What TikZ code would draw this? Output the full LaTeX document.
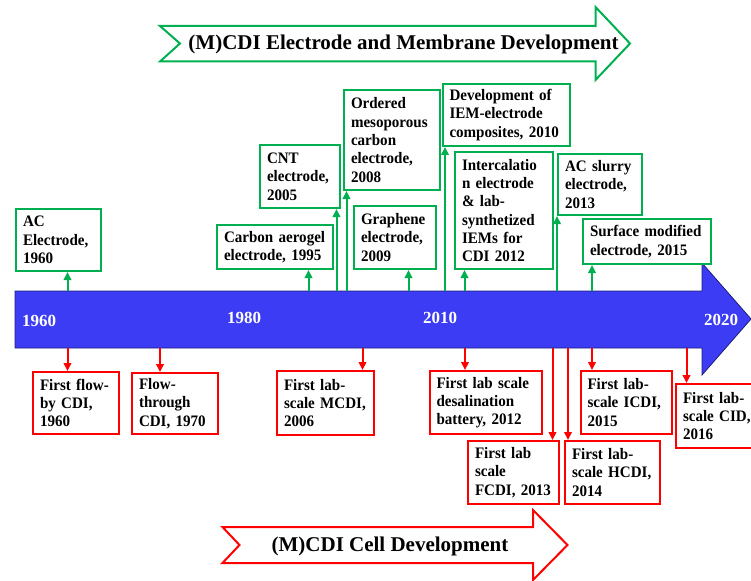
\documentclass[tikz,border=0pt]{standalone}
\usepackage{fontspec}
\setmainfont{Liberation Serif}
\newfontfamily\narrowfont[FakeStretch=0.94]{Liberation Serif}
\usetikzlibrary{arrows.meta}
\definecolor{cgreen}{RGB}{0,176,80}
\definecolor{cred}{RGB}{255,0,0}
\definecolor{tlblue}{RGB}{60,60,244}
\tikzset{
  box/.style={fill=white, line width=2pt, anchor=north west, align=left,
    inner xsep=7pt, inner ysep=0pt,
    font=\narrowfont\bfseries\fontsize{16}{18.3}\selectfont},
  gbox/.style={box, draw=cgreen},
  rbox/.style={box, draw=cred},
  garrow/.style={draw=cgreen, line width=2pt, -{Triangle[width=7.5pt,length=8pt]}},
  rarrow/.style={draw=cred, line width=2pt, -{Triangle[width=7.5pt,length=8pt]}},
  year/.style={text=white, font=\bfseries\fontsize{17}{20}\selectfont},
  banner/.style={font=\bfseries\fontsize{21}{24}\selectfont}
}
\begin{document}
\begin{tikzpicture}[x=1pt,y=-1pt]
\useasboundingbox (0,0) rectangle (751,580);

% top banner
\draw[cgreen, line width=2pt, fill=white] (160,26) -- (595.5,26) -- (595.5,7)
    -- (630,43.5) -- (595.5,80) -- (595.5,61.5) -- (160,61.5) -- (180,43.5) -- cycle;
\node[banner] (etitle) at (403.5,44) {(M)CDI Electrode and Membrane Development};

% timeline
\filldraw[fill=tlblue, draw=tlblue!50!black, line width=0.8pt] (15,291) -- (702,291)
    -- (702,263) -- (751,319) -- (702,375) -- (702,348) -- (15,348) -- cycle;
\coordinate (ttop) at (0,291);
\coordinate (tbot) at (0,348);
\node[year] (y1960) at (39,320.5) {1960};
\node[year] (y1980) at (244,318) {1980};
\node[year] (y2010) at (440,318) {2010};
\node[year] (y2020) at (721,320) {2020};

% electrode and membrane boxes
\node[gbox, text width=71pt, minimum height=62pt] (ac) at (15,208) {AC\\Electrode,\\1960};
\node[gbox, text width=102pt, minimum height=44pt] (aerogel) at (216,224) {Carbon aerogel\\electrode, 1995};
\node[gbox, text width=65.5pt, minimum height=63pt] (cnt) at (259,144) {CNT\\electrode,\\2005};
\node[gbox, text width=81.5pt, minimum height=100pt] (omc) at (343,89) {Ordered\\mesoporous\\carbon\\electrode,\\2008};
\node[gbox, text width=68pt, minimum height=63pt] (graphene) at (353,205) {Graphene\\electrode,\\2009};
\node[gbox, text width=113pt, minimum height=62pt] (iem) at (441.5,83) {Development of\\IEM-electrode\\composites, 2010};
\node[gbox, text width=84pt, minimum height=117pt] (intercal) at (454,151) {Intercalatio\\n electrode\\\& lab-\\synthetized\\IEMs for\\CDI 2012};
\node[gbox, text width=69.5pt, minimum height=61pt] (slurry) at (557,153) {AC slurry\\electrode,\\2013};
\node[gbox, text width=114pt, minimum height=45pt] (surface) at (582,218) {Surface modified\\electrode, 2015};

% cell boxes
\node[rbox, text width=71.5pt, minimum height=62pt] (flowby) at (32,371) {First flow-\\by CDI,\\1960};
\node[rbox, text width=71.5pt, minimum height=61pt] (flowthrough) at (131,372) {Flow-\\through\\CDI, 1970};
\node[rbox, text width=82.5pt, minimum height=64pt] (mcdi) at (276,370) {First lab-\\scale MCDI,\\2006};
\node[rbox, text width=98.5pt, minimum height=63pt] (battery) at (428.5,370) {First lab scale\\desalination\\battery, 2012};
\node[rbox, text width=77.5pt, minimum height=63pt] (icdi) at (579.5,370) {First lab-\\scale ICDI,\\2015};
\node[rbox, text width=76pt, minimum height=64pt] (cid) at (675,383) {First lab-\\scale CID,\\2016};
\node[rbox, text width=76.5pt, minimum height=63pt] (fcdi) at (467,440) {First lab\\scale\\FCDI, 2013};
\node[rbox, text width=81pt, minimum height=63pt] (hcdi) at (564,440) {First lab-\\scale HCDI,\\2014};

% arrows up
\draw[garrow] (67.5,0 |- ttop) -- (67.5,0 |- ac.south);
\draw[garrow] (308.5,0 |- ttop) -- (308.5,0 |- aerogel.south);
\draw[garrow] (336.5,0 |- ttop) -- (336.5,0 |- cnt.south);
\draw[garrow] (346.5,0 |- ttop) -- (346.5,0 |- omc.south);
\draw[garrow] (408.5,0 |- ttop) -- (408.5,0 |- graphene.south);
\draw[garrow] (445,0 |- ttop) -- (445,0 |- iem.south);
\draw[garrow] (464.5,0 |- ttop) -- (464.5,0 |- intercal.south);
\draw[garrow] (557,0 |- ttop) -- (557,0 |- slurry.south);
\draw[garrow] (592,0 |- ttop) -- (592,0 |- surface.south);

% arrows down
\draw[rarrow] (67.5,0 |- tbot) -- (67.5,0 |- flowby.north);
\draw[rarrow] (160,0 |- tbot) -- (160,0 |- flowthrough.north);
\draw[rarrow] (362.5,0 |- tbot) -- (362.5,0 |- mcdi.north);
\draw[rarrow] (465,0 |- tbot) -- (465,0 |- battery.north);
\draw[rarrow] (592,0 |- tbot) -- (592,0 |- icdi.north);
\draw[rarrow] (686.5,0 |- tbot) -- (686.5,0 |- cid.north);
\draw[rarrow] (552.5,0 |- tbot) -- (552.5,0 |- fcdi.north);
\draw[rarrow] (568,0 |- tbot) -- (568,0 |- hcdi.north);

% bottom banner
\draw[cred, line width=2pt, fill=white] (222.5,527) -- (533,527) -- (533,510)
    -- (567.5,545) -- (533,580) -- (533,563) -- (222.5,563) -- (239.5,545) -- cycle;
\node[banner] (ctitle) at (390,546) {(M)CDI Cell Development};
\end{tikzpicture}
\end{document}
